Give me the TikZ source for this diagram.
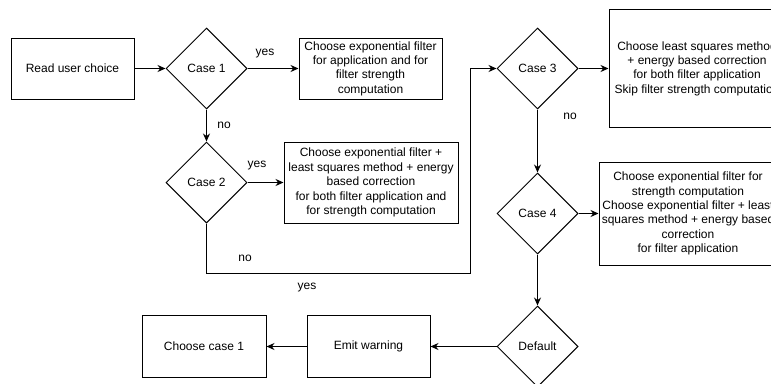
\documentclass[tikz,border=0pt]{standalone}
\usepackage{fontspec}
\setmainfont{Liberation Sans}
\usetikzlibrary{arrows.meta,positioning,shapes.geometric}
\definecolor{ink}{RGB}{0,0,0}

\begin{document}
\begin{tikzpicture}[x=1pt,y=-1pt,node distance=31pt,font=\fontsize{12}{14.4}\selectfont]
        \tikzstyle{stepbox}=[draw=ink,line width=1pt,align=center,inner sep=2pt]
        \tikzstyle{casebox}=[draw=ink,line width=1pt,shape=diamond,aspect=1,minimum width=81pt,minimum height=81pt,inner sep=0pt]
        \tikzstyle{flow}=[-{Stealth[length=8pt,width=7pt]},ink,line width=1pt]
        \tikzstyle{answer}=[inner sep=0pt,text=ink]
        \useasboundingbox (0,0) rectangle (771,383);
        \clip (0,0) rectangle (771,383);
        \node[stepbox,minimum width=123pt,minimum height=61pt] (read) at (72.5,68.5) {Read user choice};
        \node[casebox,right=31pt of read] (case1) {Case 1};
        \node[stepbox,right=51pt of case1,minimum width=143pt,minimum height=61pt] (box1) {Choose exponential filter\\for application and for\\filter strength\\computation};
        \node[casebox,below=32pt of case1] (case2) {Case 2};
        \node[stepbox,right=36pt of case2,minimum width=174pt,minimum height=81pt] (box2) {Choose exponential filter +\\least squares method + energy\\based correction\\for both filter application and\\for strength computation};
        \node[casebox] (case3) at (537.5,68.5) {Case 3};
        \node[stepbox,right=30pt of case3,minimum width=176pt,minimum height=118pt] (box3) {Choose least squares method\\+ energy based correction\\for both filter application\\Skip filter strength computation};
        \node[casebox,below=63pt of case3] (case4) {Case 4};
        \node[stepbox,right=20pt of case4,minimum width=178pt,minimum height=103pt] (box4) {Choose exponential filter for\\strength computation\\Choose exponential filter + least\\squares method + energy based\\correction\\for filter application};
        \node[casebox,below=51pt of case4] (default) {Default};
        \node[stepbox,left=66pt of default,minimum width=123pt,minimum height=62pt] (emit) {Emit warning};
        \node[stepbox,left=40pt of emit,minimum width=124pt,minimum height=62pt] (choose) {Choose case 1};
        \coordinate (lowturn) at (470.5,273);
        % connectors
        \draw[flow] (read) -- (case1);
        \draw[flow] (case1) -- (box1);
        \draw[flow] (case1) -- (case2);
        \draw[flow] (case2) -- (box2);
        \draw[flow] (case2.south) |- (lowturn) |- (case3.west);
        \draw[flow] (case3) -- (box3);
        \draw[flow] (case3) -- (case4);
        \draw[flow] (case4) -- (box4);
        \draw[flow] (case4) -- (default);
        \draw[flow] (default) -- (emit);
        \draw[flow] (emit) -- (choose);
        % answers
        \node[answer] (yes1) at (265,54) {yes};
        \node[answer] (no1) at (224,125) {no};
        \node[answer] (yes2) at (257,166) {yes};
        \node[answer] (no2) at (245,258) {no};
        \node[answer] (yes3) at (307,288) {yes};
        \node[answer] (no3) at (570,116) {no};
      \end{tikzpicture}
\end{document}
